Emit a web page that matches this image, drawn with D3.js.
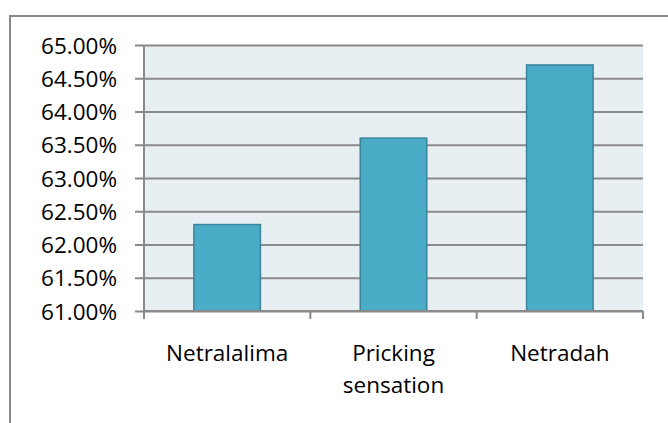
<!DOCTYPE html>
<html>
<head>
<meta charset="utf-8">
<script src="https://cdn.jsdelivr.net/npm/d3@7"></script>
<style>
  html, body { margin: 0; padding: 0; background: #fff; }
  svg { display: block; }
  text { font-family: "Open Sans", "Noto Sans", sans-serif; fill: #000; }
</style>
</head>
<body>
<svg id="chart" width="668" height="423"></svg>
<script>
// Share of respondents reporting each symptom
const categories = [["Netralalima"], ["Pricking", "sensation"], ["Netradah"]];
const values = [62.3, 63.6, 64.7];
const yTicks = [61, 61.5, 62, 62.5, 63, 63.5, 64, 64.5, 65];

const W = 668, H = 423;
const margin = { left: 144, top: 45, right: 25, bottom: 112 };
const svg = d3.select("#chart");

// outer frame
svg.append("rect")
  .attr("x", 10).attr("y", 16)
  .attr("width", W + 20).attr("height", H + 20)
  .attr("fill", "none").attr("stroke", "#898989").attr("stroke-width", 2);

const x = d3.scaleBand()
  .domain(categories.map(d => d.join(" ")))
  .range([margin.left, W - margin.right])
  .paddingInner(0.6).paddingOuter(0.3);

const y = d3.scaleLinear()
  .domain([61, 65])
  .range([H - margin.bottom, margin.top]);

// plot background
svg.append("rect")
  .attr("x", margin.left).attr("y", margin.top)
  .attr("width", W - margin.right - margin.left)
  .attr("height", H - margin.bottom - margin.top)
  .attr("fill", "#e8eff3");

// y axis with gridlines
const yAxis = svg.append("g")
  .attr("transform", `translate(${margin.left},0)`)
  .call(d3.axisLeft(y).tickValues(yTicks)
    .tickFormat(d => d.toFixed(2) + "%")
    .tickSize(-(W - margin.right - margin.left))
    .tickPadding(0));
yAxis.select(".domain").remove();
yAxis.selectAll(".tick line")
  .attr("x1", -9)
  .attr("stroke", "#8a8a8a").attr("stroke-width", 2);
yAxis.selectAll(".tick text")
  .attr("x", -27).attr("dy", "0.36em")
  .style("font-size", "22.5px").attr("fill", "#000");

// bars
svg.append("g").selectAll("rect")
  .data(values)
  .join("rect")
  .attr("x", (d, i) => x(categories[i].join(" ")))
  .attr("y", d => y(d))
  .attr("width", x.bandwidth())
  .attr("height", d => y(61) - y(d))
  .attr("fill", "#4aacc6")
  .attr("stroke", "#3a8599").attr("stroke-width", 1.5);

// left axis line
svg.append("line")
  .attr("x1", margin.left).attr("x2", margin.left)
  .attr("y1", margin.top).attr("y2", y(61) + 8)
  .attr("stroke", "#8a8a8a").attr("stroke-width", 2);

// bottom axis with category boundary ticks
const step = x.step();
const bounds = d3.range(categories.length + 1).map(i => margin.left + i * (W - margin.right - margin.left) / categories.length);
svg.append("line")
  .attr("x1", margin.left).attr("x2", W - margin.right)
  .attr("y1", y(61)).attr("y2", y(61))
  .attr("stroke", "#8a8a8a").attr("stroke-width", 2);
svg.append("g").selectAll("line")
  .data(bounds)
  .join("line")
  .attr("x1", d => d).attr("x2", d => d)
  .attr("y1", y(61)).attr("y2", y(61) + 8)
  .attr("stroke", "#8a8a8a").attr("stroke-width", 2);

// category labels
const labels = svg.append("g").selectAll("text")
  .data(categories)
  .join("text")
  .attr("x", d => x(d.join(" ")) + x.bandwidth() / 2)
  .attr("y", 361)
  .attr("text-anchor", "middle")
  .style("font-size", "22.5px");
labels.selectAll("tspan")
  .data(d => d)
  .join("tspan")
  .attr("x", function () { return d3.select(this.parentNode).attr("x"); })
  .attr("dy", (d, i) => i === 0 ? 0 : 32)
  .text(d => d);
</script>
</body>
</html>
